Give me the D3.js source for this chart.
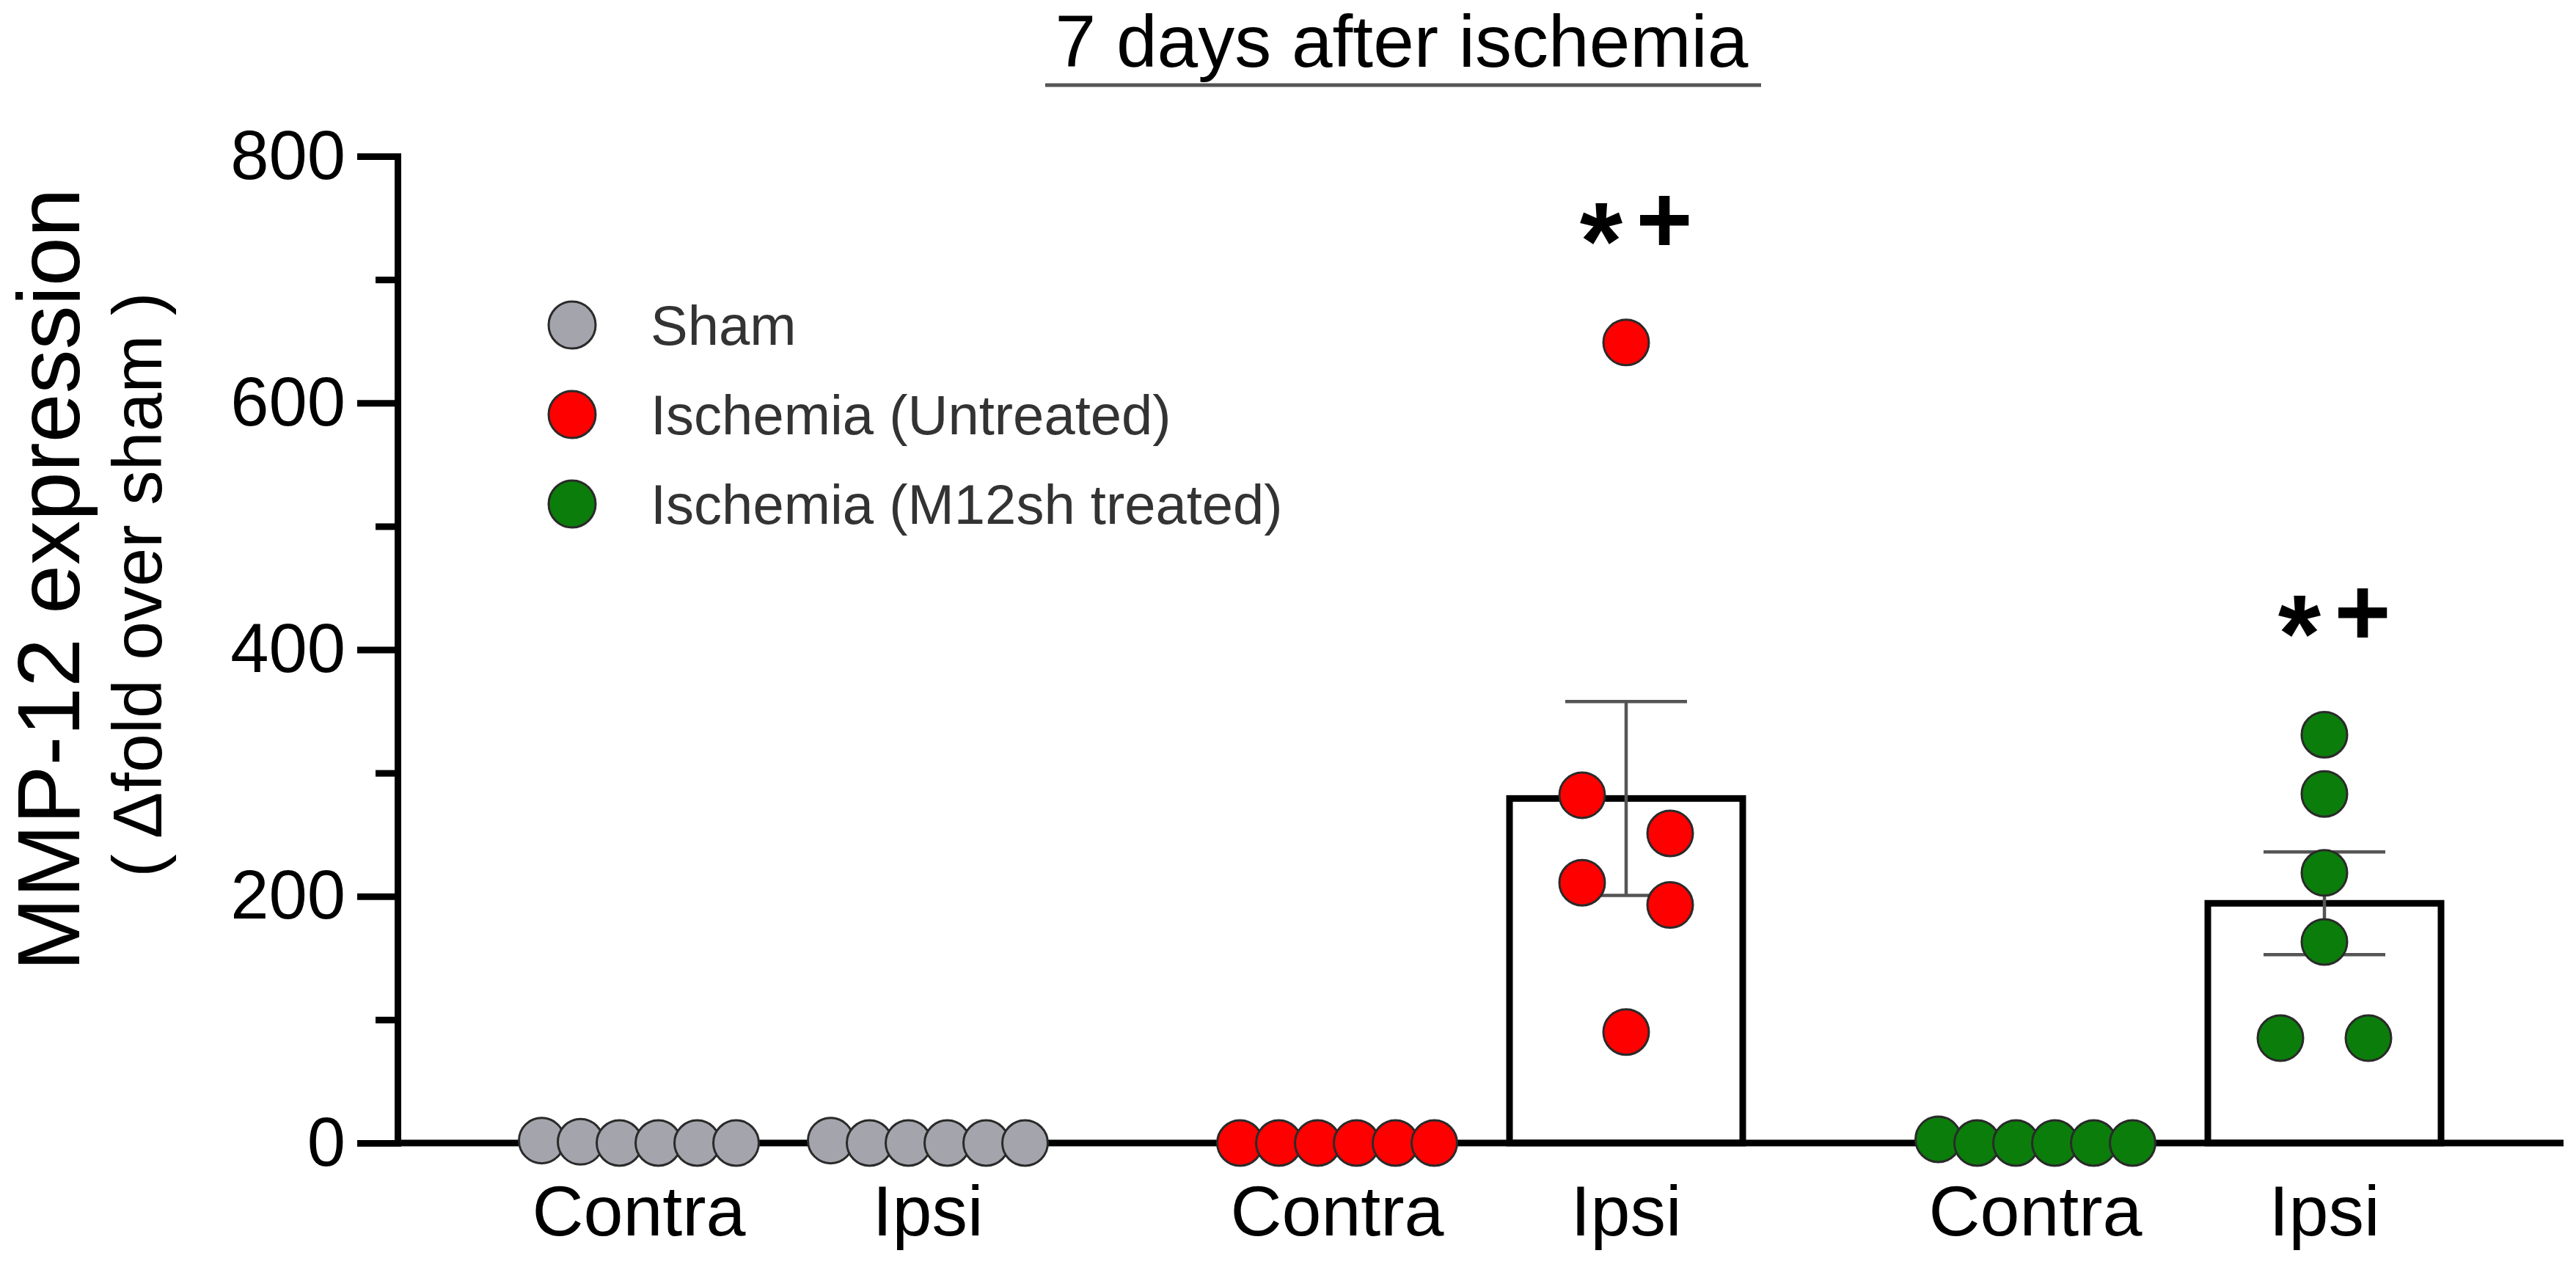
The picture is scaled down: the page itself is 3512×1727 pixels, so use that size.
<!DOCTYPE html>
<html>
<head>
<meta charset="utf-8">
<script src="https://cdn.jsdelivr.net/npm/d3@7"></script>
<style>
  html, body { margin: 0; padding: 0; background: #ffffff; }
  svg { display: block; font-family: "Liberation Sans", Arial, sans-serif; }
</style>
</head>
<body>
<script>
// ---------- DATA ----------
const groups = ["Sham", "Ischemia (Untreated)", "Ischemia (M12sh treated)"];
const sides = ["Contra", "Ipsi"];
const groupColors = ["#a4a4ac", "#ff0000", "#0b7d0b"];
const shamContra = [0, 2, 0, 1, 0, 0];
const shamIpsi = [0, 2, 0, 0, 0, 0];
const untreatedContra = [0, 0, 0, 0, 0, 0];
const untreatedIpsi = [649, 282, 251, 211, 193, 90];
const treatedContra = [0, 3, 0, 0, 0, 0];
const treatedIpsi = [331, 283, 219, 163, 85, 85];
const significance = [null, null, null, "*+", null, "*+"];
const yMajorTicks = [0, 200, 400, 600, 800];
const yMinorTicks = [100, 300, 500, 700];
const titleText = "7 days after ischemia";
const yTitle = "MMP-12 expression";
const ySubtitle = "( \u0394fold over sham )";

// ---------- LAYOUT ----------
const W = 3512, H = 1727;
const svg = d3.select("body").append("svg").attr("width", W).attr("height", H);
svg.append("rect").attr("width", W).attr("height", H).attr("fill", "#fff");

const y = d3.scaleLinear().domain([0, 800]).range([1558, 213]);
const xGroup = d3.scaleBand().domain(groups).range([592, 3448]).padding(0);
const xSide = d3.scalePoint().domain(sides).range([-197, 197]);
const xPos = (g, s) => xGroup(g) + xGroup.bandwidth() / 2 + xSide(s);

const seriesValues = [
  [groups[0], sides[0], shamContra],
  [groups[0], sides[1], shamIpsi],
  [groups[1], sides[0], untreatedContra],
  [groups[1], sides[1], untreatedIpsi],
  [groups[2], sides[0], treatedContra],
  [groups[2], sides[1], treatedIpsi]
];

const series = seriesValues.map(([g, s, vals], i) => {
  const n = vals.length;
  const mean = d3.mean(vals);
  const sd = d3.deviation(vals) || 0;
  return { g, s, vals, mean, sem: sd / Math.sqrt(n), color: groupColors[groups.indexOf(g)], sig: significance[i] };
});

const AXW = 9;
const R = 31;
const barW = xGroup.bandwidth() * 0.334;

// bars
const gBars = svg.append("g");
series.forEach(d => {
  if (d.mean < 5) return;
  const cx = xPos(d.g, d.s);
  gBars.append("rect")
    .attr("x", cx - barW / 2).attr("y", y(d.mean))
    .attr("width", barW).attr("height", y(0) - y(d.mean))
    .attr("fill", "#fff").attr("stroke", "#000").attr("stroke-width", AXW);
});

// error bars
const gErr = svg.append("g").attr("stroke", "#555").attr("stroke-width", 4.5);
const capW = 166;
series.forEach(d => {
  if (d.sem <= 0.5) return;
  const cx = xPos(d.g, d.s);
  gErr.append("line").attr("x1", cx).attr("x2", cx).attr("y1", y(d.mean + d.sem)).attr("y2", y(d.mean - d.sem));
  gErr.append("line").attr("x1", cx - capW / 2).attr("x2", cx + capW / 2).attr("y1", y(d.mean + d.sem)).attr("y2", y(d.mean + d.sem));
  gErr.append("line").attr("x1", cx - capW / 2).attr("x2", cx + capW / 2).attr("y1", y(d.mean - d.sem)).attr("y2", y(d.mean - d.sem));
});

// axes
const yAxis = d3.axisLeft(y).tickValues(yMajorTicks).tickSize(55).tickSizeOuter(0).tickPadding(16);
const yAxisMinor = d3.axisLeft(y).tickValues(yMinorTicks).tickSize(30).tickSizeOuter(0).tickFormat("");
const x0 = 542;
const gy = svg.append("g").attr("transform", `translate(${x0},0)`).call(yAxis);
gy.select(".domain").attr("stroke", "#000").attr("stroke-width", AXW).attr("stroke-linecap", "square");
gy.selectAll(".tick line").attr("stroke", "#000").attr("stroke-width", AXW);
gy.selectAll(".tick text").attr("font-size", 94).attr("fill", "#000")
  .attr("font-family", "'Liberation Sans', Arial, sans-serif");
const gym = svg.append("g").attr("transform", `translate(${x0},0)`).call(yAxisMinor);
gym.select(".domain").remove();
gym.selectAll(".tick line").attr("stroke", "#000").attr("stroke-width", AXW);

// x axis line
svg.append("line").attr("x1", x0).attr("x2", 3495).attr("y1", y(0)).attr("y2", y(0))
  .attr("stroke", "#000").attr("stroke-width", AXW);

// x labels
series.forEach(d => {
  svg.append("text").attr("x", xPos(d.g, d.s)).attr("y", 1684)
    .attr("text-anchor", "middle").attr("font-size", 97).attr("fill", "#000").text(d.s);
});

// points (simple swarm: cluster near-equal values, center each cluster)
const gPts = svg.append("g");
series.forEach(d => {
  const cx = xPos(d.g, d.s);
  const pts = d.vals.map((v, i) => ({ v, i })).sort((a, b) => b.v - a.v);
  const clusters = [];
  pts.forEach((p, k) => {
    if (k > 0 && Math.abs(y(p.v) - y(pts[k - 1].v)) < 60) clusters[clusters.length - 1].push(p);
    else clusters.push([p]);
  });
  clusters.forEach(c => {
    const n = c.length;
    const sp = n > 1 ? Math.min(120, 265 / (n - 1)) : 0;
    c.forEach((p, j) => {
      gPts.append("circle")
        .attr("cx", cx + (j - (n - 1) / 2) * sp).attr("cy", y(p.v)).attr("r", R)
        .attr("fill", d.color).attr("stroke", "#2a2a2a").attr("stroke-width", 3);
    });
  });
});

// significance marks
series.forEach(d => {
  if (!d.sig) return;
  const cx = xPos(d.g, d.s);
  const yc = y(d3.max(d.vals) + 100);
  const [a, b] = d.sig.split("");
  svg.append("text").attr("x", cx - 34).attr("y", yc + 0.55 * 150)
    .attr("text-anchor", "middle").attr("font-size", 150).attr("font-weight", "bold").text(a);
  svg.append("text").attr("x", cx + 52).attr("y", yc + 0.345 * 132)
    .attr("text-anchor", "middle").attr("font-size", 132).attr("font-weight", "bold").text(b);
});

// legend
const gLeg = svg.append("g");
groups.forEach((g, i) => {
  const ly = 443 + i * 122;
  gLeg.append("circle").attr("cx", 780).attr("cy", ly).attr("r", 32)
    .attr("fill", groupColors[i]).attr("stroke", "#2a2a2a").attr("stroke-width", 3);
  gLeg.append("text").attr("x", 887).attr("y", ly).attr("dy", "0.36em")
    .attr("font-size", 76).attr("fill", "#333").text(g);
});

// title with underline
svg.append("text").attr("x", 1911).attr("y", 91).attr("text-anchor", "middle")
  .attr("font-size", 100).attr("fill", "#000").text(titleText);
svg.append("line").attr("x1", 1425).attr("x2", 2401).attr("y1", 116).attr("y2", 116)
  .attr("stroke", "#555").attr("stroke-width", 5);

// y titles
svg.append("text").attr("transform", "translate(108,790) rotate(-90)")
  .attr("text-anchor", "middle").attr("font-size", 120).attr("fill", "#000").text(yTitle);
svg.append("text").attr("transform", "translate(220,797) rotate(-90)")
  .attr("text-anchor", "middle").attr("font-size", 95).attr("fill", "#000").text(ySubtitle);
</script>
</body>
</html>
